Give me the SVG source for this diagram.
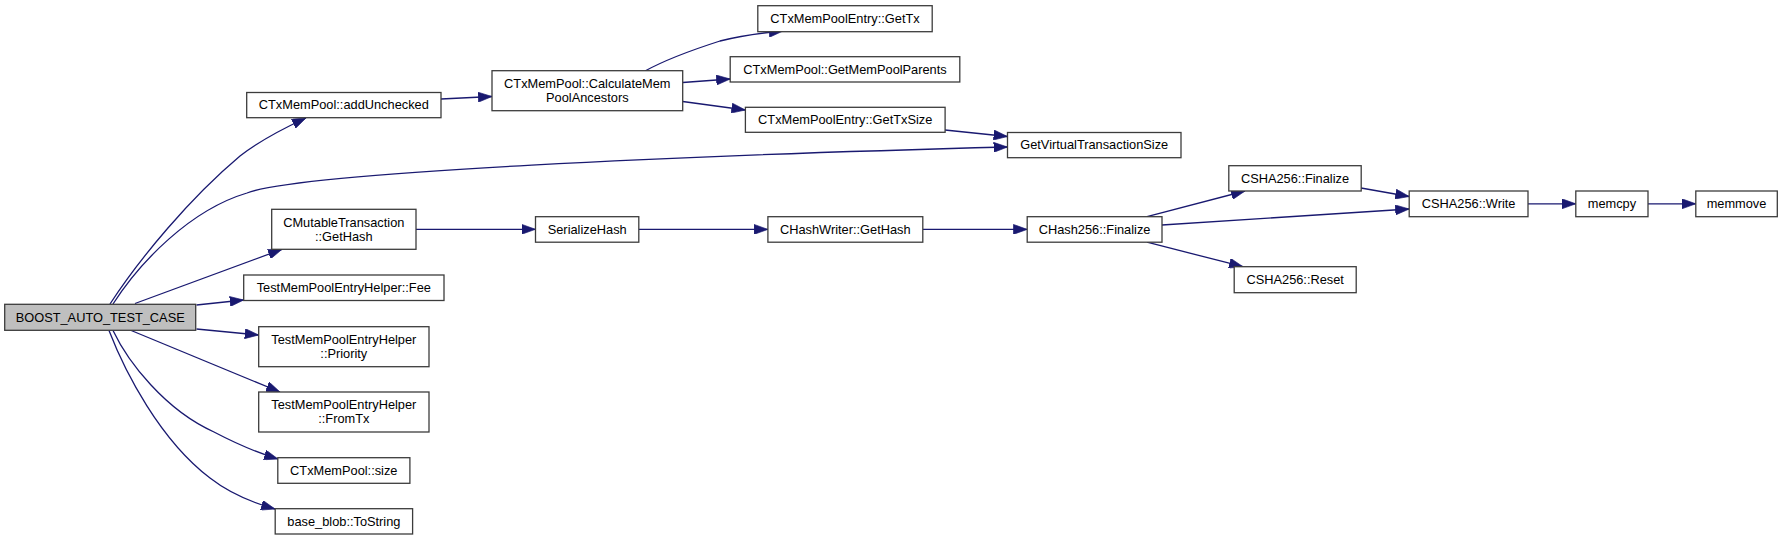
<svg xmlns="http://www.w3.org/2000/svg" width="1783" height="540" viewBox="0 0 1783 540">
<style>
.node rect{fill:#ffffff;stroke:#3c3c3c;stroke-width:1.3}
.node.root rect{fill:#bfbfbf}
.node text{font-family:"Liberation Sans",Arial,sans-serif;font-size:12.8px;fill:#000000;text-anchor:middle}
#edges path{fill:none;stroke:#191970;stroke-width:1.3;marker-end:url(#arrow)}
</style>
<defs>
<marker id="arrow" markerUnits="userSpaceOnUse" markerWidth="14" markerHeight="10" viewBox="0 0 13 9.4" refX="13" refY="4.7" orient="auto">
<path d="M0,0 L13,4.7 L0,9.4 Z" fill="#191970" stroke="#191970" stroke-width="0.6"/>
</marker>
</defs>
<rect width="1783" height="540" fill="#ffffff"/>
<g id="edges">
<path d="M110,304 C140,258 190,198 240,156 C258,142 280,130 306,118"/>
<path d="M113,304 C140,262 190,210 247,193 C300,172 700,155 1007.5,147"/>
<path d="M135,303.5 L282,249.3"/>
<path d="M196.5,305 L243.7,300"/>
<path d="M196.5,329 L258.7,335"/>
<path d="M130,330 L280,392"/>
<path d="M113,330.5 C128,362 165,410 214,432 C235,443 255,452 278,459"/>
<path d="M109,330.5 C125,372 160,440 210,478 C228,492 250,502 275,509"/>
<path d="M441,99 L492,96.5"/>
<path d="M645,71 C665,60 695,49 720,41 C740,36 760,33 783,31"/>
<path d="M682.7,82.5 L730.2,79"/>
<path d="M682.7,101.5 L745.4,110"/>
<path d="M945,130 L1007.5,136.5"/>
<path d="M416,229.3 L535.5,229.3"/>
<path d="M638.8,229.4 L767.9,229.4"/>
<path d="M922.8,229.4 L1027.2,229.4"/>
<path d="M1147,216.7 L1245,191"/>
<path d="M1162,225 L1409.2,209"/>
<path d="M1147,242.2 L1243,266.7"/>
<path d="M1361,188 L1409.2,196.5"/>
<path d="M1528,203.8 L1575.8,203.8"/>
<path d="M1648,203.8 L1695.8,203.8"/>
</g>
<g id="node-boost" class="node root"><rect x="4.7" y="304.3" width="191" height="26"/><text x="100.2" y="321.6">BOOST_AUTO_TEST_CASE</text></g>
<g id="node-addunchecked" class="node"><rect x="246.7" y="92.5" width="194.3" height="25.2"/><text x="343.8" y="109.4">CTxMemPool::addUnchecked</text></g>
<g id="node-calcancestors" class="node"><rect x="492" y="70.7" width="190.7" height="40"/><text x="587.3" y="87.9">CTxMemPool::CalculateMem</text><text x="587.3" y="101.9">PoolAncestors</text></g>
<g id="node-gettx" class="node"><rect x="757.8" y="5.7" width="174.4" height="26"/><text x="845" y="23">CTxMemPoolEntry::GetTx</text></g>
<g id="node-getmempoolparents" class="node"><rect x="730.2" y="56.7" width="229.6" height="25.3"/><text x="845" y="73.6">CTxMemPool::GetMemPoolParents</text></g>
<g id="node-gettxsize" class="node"><rect x="745.4" y="107.3" width="199.7" height="25"/><text x="845.2" y="124.1">CTxMemPoolEntry::GetTxSize</text></g>
<g id="node-getvirtualtxsize" class="node"><rect x="1007.5" y="132.5" width="173.5" height="25.2"/><text x="1094.2" y="149.4">GetVirtualTransactionSize</text></g>
<g id="node-mutablegethash" class="node"><rect x="271.7" y="209.3" width="144.3" height="40"/><text x="343.8" y="226.5">CMutableTransaction</text><text x="343.8" y="240.5">::GetHash</text></g>
<g id="node-serializehash" class="node"><rect x="535.5" y="216.7" width="103.3" height="25.5"/><text x="587.2" y="233.7">SerializeHash</text></g>
<g id="node-hashwritergethash" class="node"><rect x="767.9" y="216.7" width="154.9" height="25.5"/><text x="845.3" y="233.7">CHashWriter::GetHash</text></g>
<g id="node-chash256finalize" class="node"><rect x="1027.2" y="216.7" width="134.8" height="25.5"/><text x="1094.6" y="233.7">CHash256::Finalize</text></g>
<g id="node-csha256finalize" class="node"><rect x="1228.8" y="165.7" width="132.4" height="25.3"/><text x="1295" y="182.6">CSHA256::Finalize</text></g>
<g id="node-csha256write" class="node"><rect x="1409.2" y="191" width="118.8" height="25.7"/><text x="1468.6" y="208.1">CSHA256::Write</text></g>
<g id="node-memcpy" class="node"><rect x="1575.8" y="191" width="72.2" height="25.7"/><text x="1611.9" y="208.1">memcpy</text></g>
<g id="node-memmove" class="node"><rect x="1695.8" y="191" width="81.5" height="25.7"/><text x="1736.5" y="208.1">memmove</text></g>
<g id="node-csha256reset" class="node"><rect x="1234.2" y="266.7" width="122" height="26"/><text x="1295.2" y="284">CSHA256::Reset</text></g>
<g id="node-fee" class="node"><rect x="243.7" y="275" width="200.3" height="25.5"/><text x="343.8" y="292">TestMemPoolEntryHelper::Fee</text></g>
<g id="node-priority" class="node"><rect x="258.7" y="326.7" width="170.3" height="40"/><text x="343.8" y="343.9">TestMemPoolEntryHelper</text><text x="343.8" y="357.9">::Priority</text></g>
<g id="node-fromtx" class="node"><rect x="258.7" y="392" width="170.3" height="40"/><text x="343.8" y="409.2">TestMemPoolEntryHelper</text><text x="343.8" y="423.2">::FromTx</text></g>
<g id="node-size" class="node"><rect x="277.8" y="457.7" width="132.1" height="25.6"/><text x="343.8" y="474.8">CTxMemPool::size</text></g>
<g id="node-tostring" class="node"><rect x="275.2" y="508.7" width="137.4" height="25.3"/><text x="343.9" y="525.6">base_blob::ToString</text></g>
</svg>
